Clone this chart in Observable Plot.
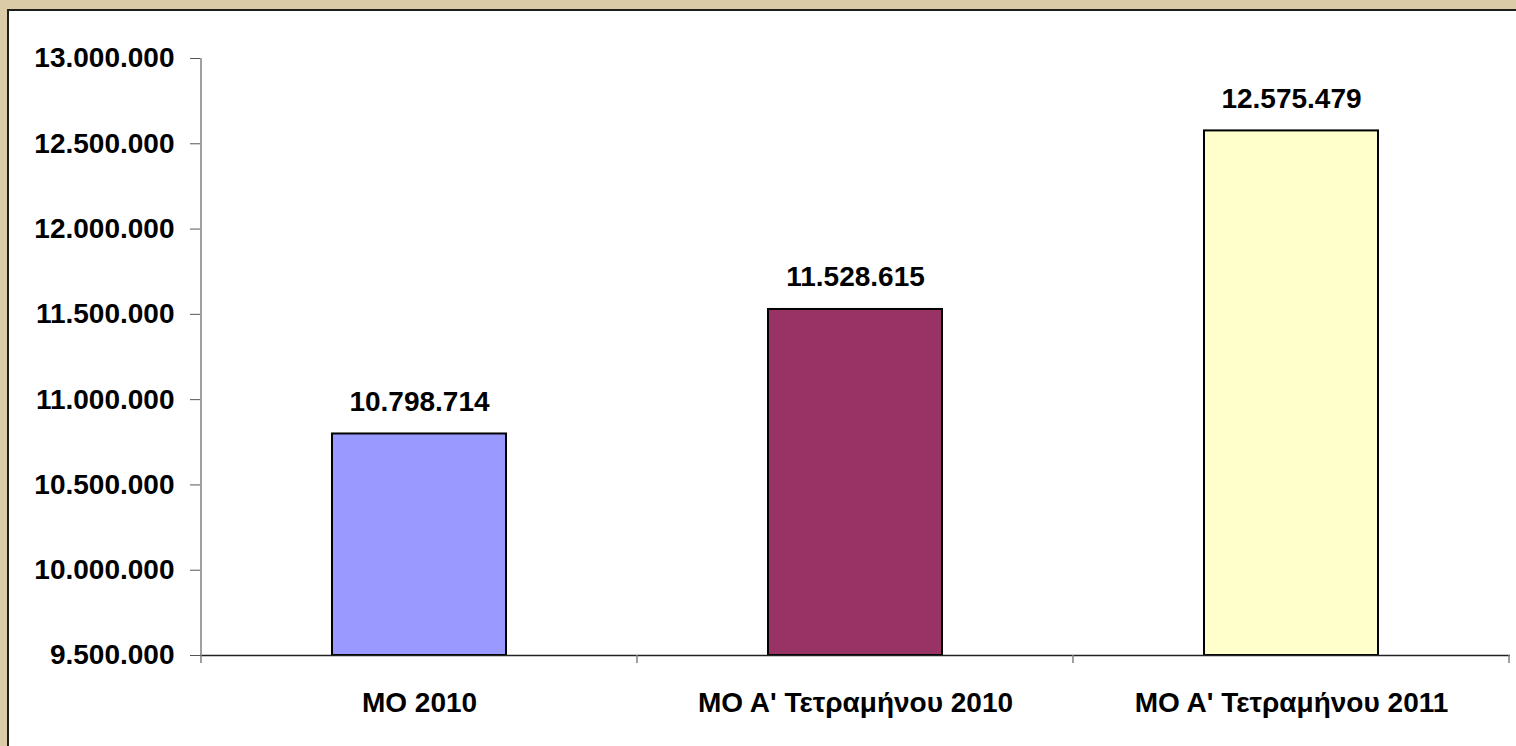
<!DOCTYPE html>
<html>
<head>
<meta charset="utf-8">
<script src="https://cdn.jsdelivr.net/npm/d3@7"></script>
<script src="https://cdn.jsdelivr.net/npm/@observablehq/plot@0.6"></script>
<style>
  html, body { margin: 0; padding: 0; overflow: hidden; }
  body { width: 1516px; height: 746px; background: #DBCCA7; position: relative; }
  #panel { position: absolute; left: 7px; top: 9px; width: 1507px; height: 735px; background: #fff;
           border-top: 2px solid #1e1e1e; border-left: 2px solid #1e1e1e; }
  #chart { position: absolute; left: 0; top: 0; width: 1516px; height: 746px; }
  #chart svg { display: block; }
</style>
</head>
<body>
<div id="panel"></div>
<div id="chart"></div>
<script>
const categories = ["ΜΟ 2010", "ΜΟ Α' Τετραμήνου 2010", "ΜΟ Α' Τετραμήνου 2011"];
const values = [10798714, 11528615, 12575479];
const barColors = ["#9999FF", "#993366", "#FFFFCC"];
const yTicks = [9500000, 10000000, 10500000, 11000000, 11500000, 12000000, 12500000, 13000000];
const yMin = 9500000;
const yMax = 13000000;

const data = categories.map((c, i) => ({category: c, value: values[i], color: barColors[i]}));
const locale = d3.formatLocale({decimal: ",", thousands: ".", grouping: [3], currency: ["", "€"]});
const fmt = locale.format(",d");
const font = "'Liberation Sans', Arial, sans-serif";

const plot = Plot.plot({
  width: 1516,
  height: 746,
  marginLeft: 200,
  marginRight: 6,
  marginTop: 58,
  marginBottom: 91,
  style: {background: "transparent", fontFamily: font, fontWeight: "bold", color: "#000"},
  x: {domain: categories, paddingInner: 0.6, paddingOuter: 0.3, label: null},
  y: {domain: [yMin, yMax], label: null},
  marks: [
    Plot.barY(data, {x: "category", y1: yMin, y2: "value", fill: "color", stroke: "#000", strokeWidth: 2}),
    Plot.ruleY([yMin], {stroke: "#222", strokeWidth: 1.5}),
    Plot.axisY({ticks: yTicks, tickFormat: fmt, tickSize: 10, tickPadding: 16, fontSize: 28, fontWeight: "bold", stroke: "#555", strokeOpacity: 1, fill: "#000"}),
    Plot.axisX({tickSize: 0, tickPadding: 37, fontSize: 28, fontWeight: "bold", fill: "#000"}),
    Plot.text(data, {x: "category", y: "value", text: d => fmt(d.value), dy: -32, lineAnchor: "middle", fontSize: 28, fontWeight: "bold", fill: "#000"})
  ]
});
document.getElementById("chart").appendChild(plot);

// axis line and category boundary ticks from the plot's own scales
const xs = plot.scale("x");
const ys = plot.scale("y");
const svg = d3.select(plot);
const y0 = ys.apply(yMin), yTop = ys.apply(yMax);
const gap = xs.step - xs.bandwidth;
const x0 = xs.apply(categories[0]) - gap / 2;
svg.append("line").attr("x1", x0).attr("x2", x0).attr("y1", yTop).attr("y2", y0)
  .attr("stroke", "#808080").attr("stroke-width", 1.5);
const bounds = categories.map(c => xs.apply(c) - gap / 2);
bounds.push(xs.apply(categories[categories.length - 1]) + xs.bandwidth + gap / 2);
bounds.forEach(b => {
  svg.append("line").attr("x1", b).attr("x2", b).attr("y1", y0).attr("y2", y0 + 8)
    .attr("stroke", "#808080").attr("stroke-width", 1.5);
});
</script>
</body>
</html>
